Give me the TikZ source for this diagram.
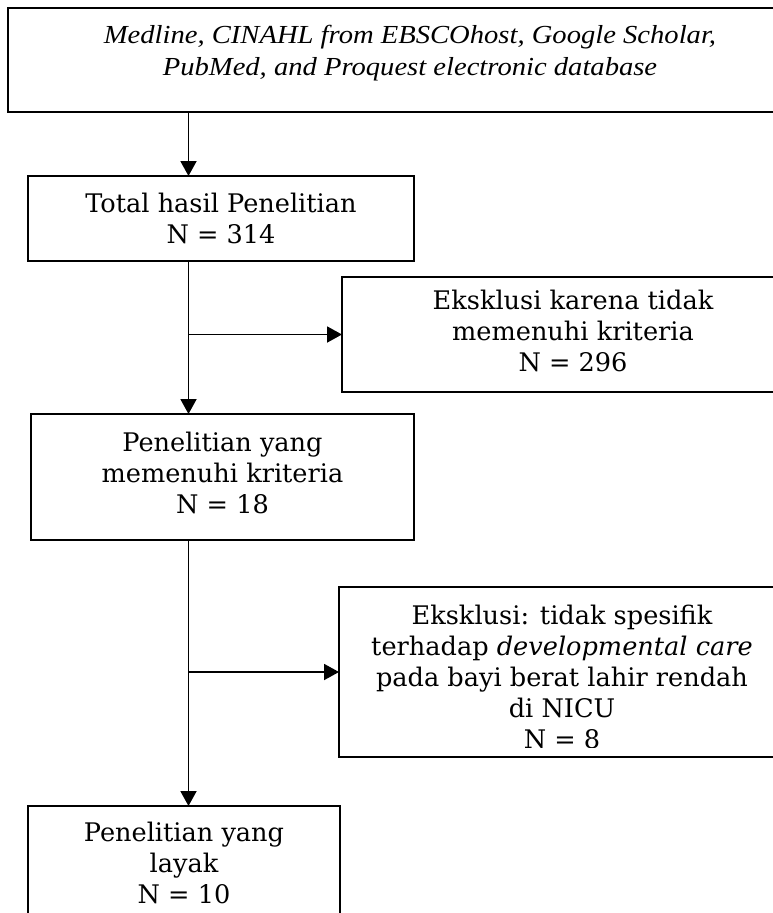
\documentclass[tikz,border=0pt]{standalone}
\usepackage{fontspec}
\setmainfont{DejaVu Serif}
\newfontfamily\topfont[FakeStretch=1.1]{Liberation Serif}
\usetikzlibrary{arrows.meta}
\begin{document}
\begin{tikzpicture}[x=1pt,y=-1pt,
  boxshape/.style={draw, rectangle, line width=1.9pt, inner sep=0pt, outer sep=0pt},
  boxtext/.style={inner sep=0pt, align=center, font=\fontsize{25.6}{31}\selectfont},
  toptext/.style={inner sep=0pt, align=center, font=\topfont\itshape\fontsize{26}{32}\selectfont},
  arr/.style={-{Triangle[length=15pt,width=16pt]}, line width=1.9pt}]
\useasboundingbox (0,0) rectangle (772,913);
% boxes
\node[boxshape, minimum width=814pt, minimum height=104pt] (src) at (415,60) {};
\node[boxshape, minimum width=386pt, minimum height=85pt] (b2) at (221,218.5) {};
\node[boxshape, minimum width=461pt, minimum height=115pt] (b3) at (572.5,334.5) {};
\node[boxshape, minimum width=383pt, minimum height=126pt] (b4) at (222.5,477) {};
\node[boxshape, minimum width=446pt, minimum height=170pt] (b5) at (562,672) {};
\node[boxshape, minimum width=312pt, minimum height=154pt] (b6) at (184,883) {};
% texts
\node[toptext] (srct) at (410,53) {Medline, CINAHL from EBSCOhost, Google Scholar,\\PubMed, and Proquest electronic database};
\node[boxtext] (b2t) at (221,218.5) {Total hasil Penelitian\\N = 314};
\node[boxtext] (b3t) at (573,331) {Eksklusi karena tidak\\memenuhi kriteria\\N = 296};
\node[boxtext] (b4t) at (222.5,473) {Penelitian yang\\memenuhi kriteria\\N = 18};
\begin{scope}
\clip (339,587) rectangle (785,747);
\node[boxtext] (b5t) at (562,676.5) {Eksklusi: tidak spesifik\\terhadap \textit{developmental care}\\pada bayi berat lahir rendah\\di NICU\\N = 8};
\end{scope}
\node[boxtext] (b6t) at (184,863) {Penelitian yang\\layak\\N = 10};
% connectors
\coordinate (spine) at (188.5,0);
\draw[arr] (src.south -| spine) -- (b2.north -| spine);
\draw[arr] (b2.south -| spine) -- (b4.north -| spine);
\draw[arr] (spine |- b3.west) -- (b3.west);
\draw[arr] (b4.south -| spine) -- (b6.north -| spine);
\draw[arr] (spine |- b5.west) -- (b5.west);
\end{tikzpicture}
\end{document}
